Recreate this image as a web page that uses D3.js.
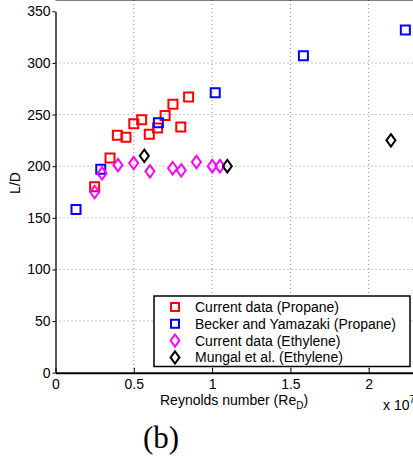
<!DOCTYPE html>
<html>
<head>
<meta charset="utf-8">
<script src="https://cdn.jsdelivr.net/npm/d3@7"></script>
<style>
  body { margin: 0; background: #fff; }
  svg { display: block; }
  text { font-family: "Liberation Sans", Arial, sans-serif; fill: #000; }
</style>
</head>
<body>
<svg id="chart"></svg>
<script>
// Reynolds number (x 1e7) vs L/D
var propaneCurrentX = [0.25, 0.348, 0.395, 0.45, 0.50, 0.55, 0.599, 0.652, 0.70, 0.75, 0.80, 0.85];
var propaneCurrentY = [180, 208, 230, 228, 241, 245, 231, 237, 249, 260, 238, 267];

var propaneBeckerX = [0.131, 0.289, 0.657, 1.02, 1.583, 2.234];
var propaneBeckerY = [158, 197, 242, 271, 307, 332];

var ethyleneCurrentX = [0.25, 0.297, 0.399, 0.499, 0.603, 0.748, 0.803, 0.90, 1.001, 1.05];
var ethyleneCurrentY = [175, 193, 201, 203, 195, 198, 196, 204, 200, 200];

var ethyleneMungalX = [0.567, 1.097, 2.142];
var ethyleneMungalY = [210, 200, 225];

var xTicks = [0, 0.5, 1, 1.5, 2];
var yTicks = [0, 50, 100, 150, 200, 250, 300, 350];

var series = [
  { label: "Current data (Propane)", xs: propaneCurrentX, ys: propaneCurrentY, shape: "square", color: "#ff0000" },
  { label: "Becker and Yamazaki (Propane)", xs: propaneBeckerX, ys: propaneBeckerY, shape: "square", color: "#0000ff" },
  { label: "Current data (Ethylene)", xs: ethyleneCurrentX, ys: ethyleneCurrentY, shape: "diamond", color: "#ff00ff" },
  { label: "Mungal et al. (Ethylene)", xs: ethyleneMungalX, ys: ethyleneMungalY, shape: "diamond", color: "#000000" }
];

var W = 413, H = 461;
var svg = d3.select("#chart").attr("width", W).attr("height", H);

// plot runs past the right edge of the picture (cropped figure)
var xScale = d3.scaleLinear().domain([0, 2.5]).range([55.5, 55.5 + 2.5 * 156.6]);
var yScale = d3.scaleLinear().domain([0, 350]).range([372.7, 11.3]);

var left = xScale(0), right = xScale(2.5), top = yScale(350), bottom = yScale(0);

// grid
var grid = svg.append("g");
grid.selectAll("line.vg").data(xTicks.slice(1)).enter().append("line")
  .attr("x1", function(d){ return xScale(d); }).attr("x2", function(d){ return xScale(d); })
  .attr("y1", top).attr("y2", bottom)
  .attr("stroke", "#8a8a8a").attr("stroke-width", 1).attr("stroke-dasharray", "1,3");
grid.selectAll("line.hg").data(yTicks.slice(1, -1)).enter().append("line")
  .attr("x1", left).attr("x2", right)
  .attr("y1", function(d){ return yScale(d); }).attr("y2", function(d){ return yScale(d); })
  .attr("stroke", "#8a8a8a").attr("stroke-width", 1).attr("stroke-dasharray", "1,3");

// axes
var xAxis = d3.axisBottom(xScale).tickValues(xTicks).tickSizeInner(-5).tickSizeOuter(0).tickPadding(6)
  .tickFormat(d3.format("~g"));
var xg = svg.append("g").attr("transform", "translate(0," + bottom + ")").call(xAxis);
xg.select(".domain").attr("stroke-width", 2);
xg.selectAll("text").style("font-size", "14px").style("font-family", "Liberation Sans, Arial, sans-serif");

var yAxis = d3.axisLeft(yScale).tickValues(yTicks).tickSizeInner(3).tickSizeOuter(0).tickPadding(2);
var yg = svg.append("g").attr("transform", "translate(" + left + ",0)").call(yAxis);
yg.select(".domain").attr("stroke-width", 1.3);
yg.selectAll("text").style("font-size", "14px").style("font-family", "Liberation Sans, Arial, sans-serif");

// top border with inward ticks
svg.append("line").attr("x1", left).attr("x2", right).attr("y1", top).attr("y2", top)
  .attr("stroke", "#000").attr("stroke-width", 1.2);
svg.selectAll("line.tt").data(xTicks.slice(1)).enter().append("line")
  .attr("x1", function(d){ return xScale(d); }).attr("x2", function(d){ return xScale(d); })
  .attr("y1", top).attr("y2", top + 4).attr("stroke", "#000");

// markers
function markerPath(shape, cx, cy, s) {
  if (shape === "square") {
    return "M" + (cx - s) + "," + (cy - s) + "h" + (2 * s) + "v" + (2 * s) + "h" + (-2 * s) + "Z";
  }
  var hw = s * 1.05, hh = s * 1.45;
  return "M" + cx + "," + (cy - hh) + "L" + (cx + hw) + "," + cy + "L" + cx + "," + (cy + hh) + "L" + (cx - hw) + "," + cy + "Z";
}

series.forEach(function(s) {
  var pts = s.xs.map(function(x, i){ return [x, s.ys[i]]; });
  svg.append("g").selectAll("path").data(pts).enter().append("path")
    .attr("d", function(d){ return markerPath(s.shape, xScale(d[0]), yScale(d[1]), s.shape === "square" ? 4.5 : 4.3); })
    .attr("fill", "none").attr("stroke", s.color).attr("stroke-width", 2);
});

// legend
var lg = svg.append("g");
lg.append("rect").attr("x", 154).attr("y", 296).attr("width", 256).attr("height", 70.5)
  .attr("fill", "#fff").attr("stroke", "#000").attr("stroke-width", 1.5);
series.forEach(function(s, i) {
  var cy = 307 + i * 16.8;
  lg.append("path").attr("d", markerPath(s.shape, 175, cy, s.shape === "square" ? 4 : 4.2))
    .attr("fill", "none").attr("stroke", s.color).attr("stroke-width", 2);
  lg.append("text").attr("x", 195).attr("y", cy + 5).style("font-size", "14px").text(s.label);
});

// labels
var xl = svg.append("text").attr("x", 160).attr("y", 405).style("font-size", "14px");
xl.append("tspan").text("Reynolds number (Re");
xl.append("tspan").attr("dy", 4).style("font-size", "10px").text("D");
xl.append("tspan").attr("dy", -4).text(")");

var ex = svg.append("text").attr("x", 383).attr("y", 410).style("font-size", "14px");
ex.append("tspan").text("x 10");
ex.append("tspan").attr("dy", -7).style("font-size", "10px").text("7");

svg.append("text").attr("transform", "translate(20,183) rotate(-90)")
  .attr("text-anchor", "middle").style("font-size", "14px").text("L/D");

svg.append("text").attr("x", 161).attr("y", 448).attr("text-anchor", "middle")
  .style("font-family", "Liberation Serif, Times New Roman, serif").style("font-size", "31px").text("(b)");
</script>
</body>
</html>
